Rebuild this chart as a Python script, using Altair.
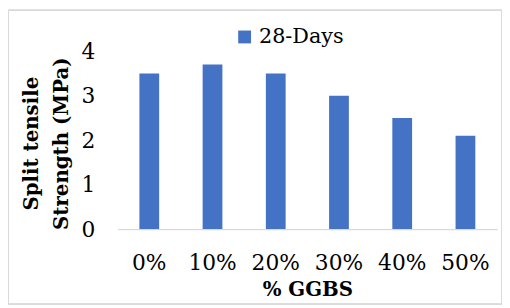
import altair as alt
import pandas as pd

categories = ["0%", "10%", "20%", "30%", "40%", "50%"]
values = [3.5, 3.7, 3.5, 3.0, 2.5, 2.1]
series = ["28-Days"] * 6

df = pd.DataFrame({"ggbs": categories, "strength": values, "series": series})

FONT = "DejaVu Serif"

bars = alt.Chart(df).mark_bar(size=20).encode(
    x=alt.X("ggbs:N", sort=categories, title="% GGBS",
            axis=alt.Axis(labelAngle=0, labelFont=FONT, labelFontSize=22, labelColor="#000",
                          labelPadding=24, ticks=False, domainColor="#d9d9d9", domainWidth=1.5,
                          titleFont=FONT, titleFontSize=20, titleFontWeight="bold",
                          titleColor="#000", titlePadding=6),
            scale=alt.Scale(paddingInner=0.6875, paddingOuter=0.34375)),
    y=alt.Y("strength:Q", title=["Split tensile", "Strength (MPa)"],
            scale=alt.Scale(domain=[0, 4]),
            axis=alt.Axis(values=[0, 1, 2, 3, 4], grid=False, domain=False, ticks=False,
                          labelFont=FONT, labelFontSize=22, labelColor="#000", labelPadding=23,
                          titleFont=FONT, titleFontSize=20, titleFontWeight="bold",
                          titleColor="#000", titleAngle=-90, titleAlign="center",
                          titleBaseline="middle", titleX=-87, titleY=93, titleLineHeight=30)),
    color=alt.Color("series:N", title=None,
                    scale=alt.Scale(range=["#4472C4"]),
                    legend=alt.Legend(orient="none", legendX=118, legendY=-25,
                                      symbolType="square", symbolSize=169,
                                      symbolStrokeWidth=0, labelFont=FONT, labelFontSize=21,
                                      labelColor="#000", symbolOpacity=1)),
)

border = alt.Chart(df).mark_rect(fill=None, stroke="#d9d9d9", strokeWidth=1).encode(
    x=alt.value(-110.5), x2=alt.value(389), y=alt.value(-41.5), y2=alt.value(256)
)

chart = alt.layer(bars, border).properties(
    width=384, height=180,
    autosize=alt.AutoSizeParams(type="none"),
    padding={"left": 111, "top": 42, "right": 5, "bottom": 76},
).configure_view(stroke=None)

chart.save("out.html", embed_options={"renderer": "svg", "actions": False})
